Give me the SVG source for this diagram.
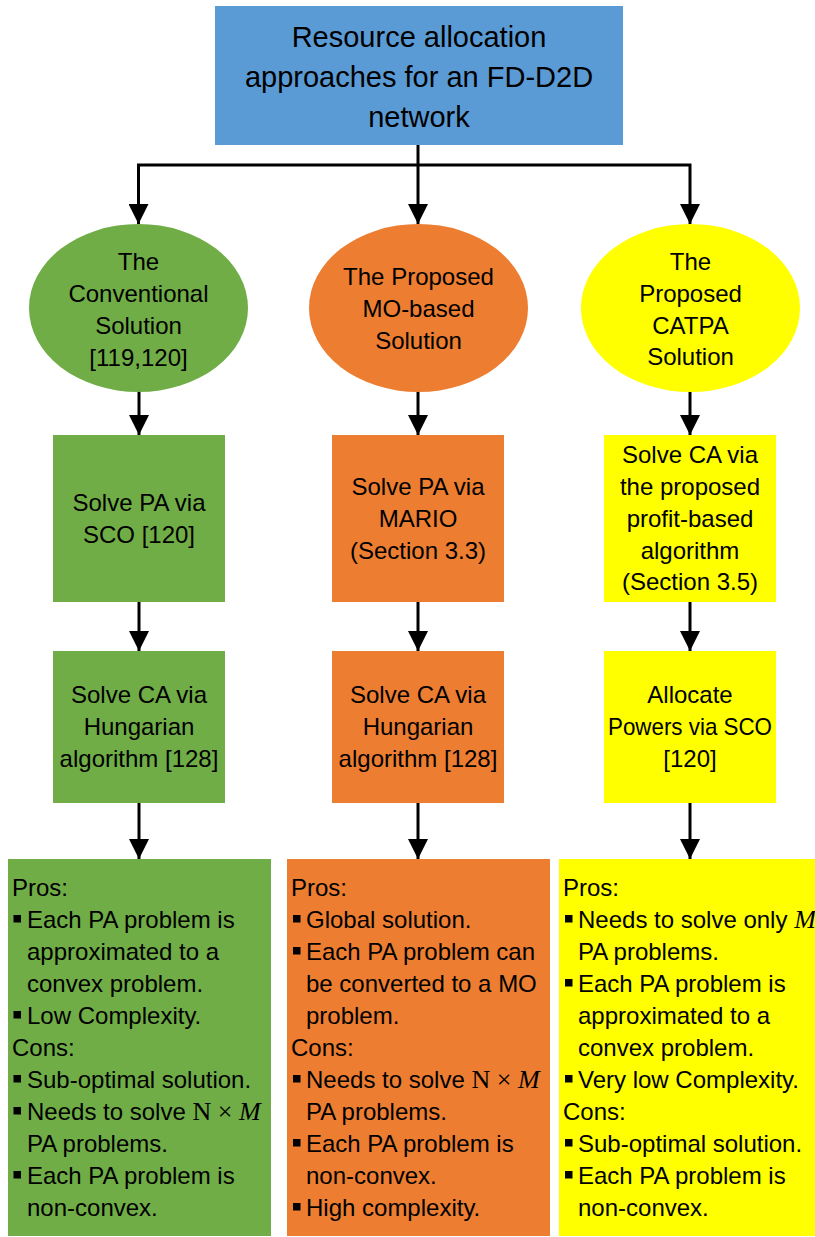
<svg xmlns="http://www.w3.org/2000/svg" width="815" height="1237" viewBox="0 0 815 1237">
<style>
text{font-family:"Liberation Sans",Arial,sans-serif;fill:#000;}
.t{font-size:29px;text-anchor:middle;}
.m{font-size:24px;text-anchor:middle;}
.l{font-size:24px;}
.math{font-family:"Liberation Serif","Times New Roman",serif;font-size:26px;}
.it{font-family:"Liberation Serif","Times New Roman",serif;font-style:italic;font-size:26px;}
.blue{fill:#5B9BD5;}
.green{fill:#70AD47;}
.orange{fill:#ED7D31;}
.yellow{fill:#FFFF00;}
.c{stroke:#000;stroke-width:3;fill:none;}
.b{fill:#000;}
</style>
<defs>
<marker id="ah" markerUnits="userSpaceOnUse" viewBox="0 0 20 20" refX="20" refY="10" markerWidth="20" markerHeight="20" orient="auto">
<path d="M0,0 L20,10 L0,20 z" fill="#000"/>
</marker>
</defs>

<g id="connectors">
<line class="c" x1="418" y1="145" x2="418" y2="224" marker-end="url(#ah)"/>
<polyline class="c" points="138.5,224 138.5,165 690,165 690,224" marker-end="url(#ah)"/>
<line class="c" x1="138.5" y1="165" x2="138.5" y2="224" marker-end="url(#ah)"/>
<line class="c" x1="139" y1="392" x2="139" y2="435" marker-end="url(#ah)"/>
<line class="c" x1="418" y1="392" x2="418" y2="435" marker-end="url(#ah)"/>
<line class="c" x1="690" y1="392" x2="690" y2="435" marker-end="url(#ah)"/>
<line class="c" x1="139" y1="602" x2="139" y2="651" marker-end="url(#ah)"/>
<line class="c" x1="418" y1="602" x2="418" y2="651" marker-end="url(#ah)"/>
<line class="c" x1="690" y1="602" x2="690" y2="651" marker-end="url(#ah)"/>
<line class="c" x1="139" y1="803" x2="139" y2="859" marker-end="url(#ah)"/>
<line class="c" x1="418" y1="803" x2="418" y2="859" marker-end="url(#ah)"/>
<line class="c" x1="690" y1="803" x2="690" y2="859" marker-end="url(#ah)"/>
</g>

<g id="root">
<rect class="blue" x="215" y="6" width="408" height="139"/>
<text class="t" x="419" y="47">Resource allocation</text>
<text class="t" x="419" y="87">approaches for an FD-D2D</text>
<text class="t" x="419" y="127">network</text>
</g>

<g id="conventional">
<ellipse class="green" cx="138.5" cy="308" rx="109.5" ry="84"/>
<text class="m" x="138.5" y="270">The</text>
<text class="m" x="138.5" y="302">Conventional</text>
<text class="m" x="138.5" y="334">Solution</text>
<text class="m" x="138.5" y="366">[119,120]</text>
</g>

<g id="mo-based">
<ellipse class="orange" cx="418.5" cy="308" rx="109.5" ry="84"/>
<text class="m" x="418.5" y="285">The Proposed</text>
<text class="m" x="418.5" y="317">MO-based</text>
<text class="m" x="418.5" y="349">Solution</text>
</g>

<g id="catpa">
<ellipse class="yellow" cx="690.5" cy="308" rx="109.5" ry="84"/>
<text class="m" x="690.5" y="270">The</text>
<text class="m" x="690.5" y="302">Proposed</text>
<text class="m" x="690.5" y="334">CATPA</text>
<text class="m" x="690.5" y="365">Solution</text>
</g>

<g id="conv-pa">
<rect class="green" x="53" y="435" width="172" height="167"/>
<text class="m" x="139" y="511">Solve PA via</text>
<text class="m" x="139" y="543">SCO [120]</text>
</g>

<g id="mo-pa">
<rect class="orange" x="332" y="435" width="172" height="167"/>
<text class="m" x="418" y="495">Solve PA via</text>
<text class="m" x="418" y="527">MARIO</text>
<text class="m" x="418" y="559">(Section 3.3)</text>
</g>

<g id="catpa-ca">
<rect class="yellow" x="604" y="435" width="172" height="167"/>
<text class="m" x="690" y="463">Solve CA via</text>
<text class="m" x="690" y="495">the proposed</text>
<text class="m" x="690" y="527">profit-based</text>
<text class="m" x="690" y="559">algorithm</text>
<text class="m" x="690" y="590">(Section 3.5)</text>
</g>

<g id="conv-ca">
<rect class="green" x="53" y="651" width="172" height="152"/>
<text class="m" x="139" y="703">Solve CA via</text>
<text class="m" x="139" y="735">Hungarian</text>
<text class="m" x="139" y="767">algorithm [128]</text>
</g>

<g id="mo-ca">
<rect class="orange" x="332" y="651" width="172" height="152"/>
<text class="m" x="418" y="703">Solve CA via</text>
<text class="m" x="418" y="735">Hungarian</text>
<text class="m" x="418" y="767">algorithm [128]</text>
</g>

<g id="catpa-pa">
<rect class="yellow" x="604" y="651" width="172" height="152"/>
<text class="m" x="690" y="703">Allocate</text>
<text class="m" x="690" y="735" textLength="164" lengthAdjust="spacingAndGlyphs">Powers via SCO</text>
<text class="m" x="690" y="767">[120]</text>
</g>

<g id="conv-proscons">
<rect class="green" x="8" y="859" width="263" height="377"/>
<text class="l" x="12" y="896">Pros:</text>
<rect class="b" x="13.5" y="915" width="7.5" height="7.5"/>
<text class="l" x="27" y="928">Each PA problem is</text>
<text class="l" x="27" y="960">approximated to a</text>
<text class="l" x="27" y="992">convex problem.</text>
<rect class="b" x="13.5" y="1011" width="7.5" height="7.5"/>
<text class="l" x="27" y="1024">Low Complexity.</text>
<text class="l" x="12" y="1056">Cons:</text>
<rect class="b" x="13.5" y="1075" width="7.5" height="7.5"/>
<text class="l" x="27" y="1088">Sub-optimal solution.</text>
<rect class="b" x="13.5" y="1107" width="7.5" height="7.5"/>
<text class="l" x="27" y="1120">Needs to solve <tspan class="math">N × </tspan><tspan class="it">M</tspan></text>
<text class="l" x="27" y="1152">PA problems.</text>
<rect class="b" x="13.5" y="1171" width="7.5" height="7.5"/>
<text class="l" x="27" y="1184">Each PA problem is</text>
<text class="l" x="27" y="1216">non-convex.</text>
</g>

<g id="mo-proscons">
<rect class="orange" x="287" y="859" width="263" height="377"/>
<text class="l" x="291" y="896">Pros:</text>
<rect class="b" x="293" y="915" width="7.5" height="7.5"/>
<text class="l" x="306" y="928">Global solution.</text>
<rect class="b" x="293" y="947" width="7.5" height="7.5"/>
<text class="l" x="306" y="960">Each PA problem can</text>
<text class="l" x="306" y="992">be converted to a MO</text>
<text class="l" x="306" y="1024">problem.</text>
<text class="l" x="291" y="1056">Cons:</text>
<rect class="b" x="293" y="1075" width="7.5" height="7.5"/>
<text class="l" x="306" y="1088">Needs to solve <tspan class="math">N × </tspan><tspan class="it">M</tspan></text>
<text class="l" x="306" y="1120">PA problems.</text>
<rect class="b" x="293" y="1139" width="7.5" height="7.5"/>
<text class="l" x="306" y="1152">Each PA problem is</text>
<text class="l" x="306" y="1184">non-convex.</text>
<rect class="b" x="293" y="1203" width="7.5" height="7.5"/>
<text class="l" x="306" y="1216">High complexity.</text>
</g>

<g id="catpa-proscons">
<rect class="yellow" x="559" y="859" width="256" height="377"/>
<text class="l" x="563" y="896">Pros:</text>
<rect class="b" x="565" y="915" width="7.5" height="7.5"/>
<text class="l" x="578" y="928">Needs to solve only <tspan class="it">M</tspan></text>
<text class="l" x="578" y="960">PA problems.</text>
<rect class="b" x="565" y="979" width="7.5" height="7.5"/>
<text class="l" x="578" y="992">Each PA problem is</text>
<text class="l" x="578" y="1024">approximated to a</text>
<text class="l" x="578" y="1056">convex problem.</text>
<rect class="b" x="565" y="1075" width="7.5" height="7.5"/>
<text class="l" x="578" y="1088">Very low Complexity.</text>
<text class="l" x="563" y="1120">Cons:</text>
<rect class="b" x="565" y="1139" width="7.5" height="7.5"/>
<text class="l" x="578" y="1152">Sub-optimal solution.</text>
<rect class="b" x="565" y="1171" width="7.5" height="7.5"/>
<text class="l" x="578" y="1184">Each PA problem is</text>
<text class="l" x="578" y="1216">non-convex.</text>
</g>
</svg>
